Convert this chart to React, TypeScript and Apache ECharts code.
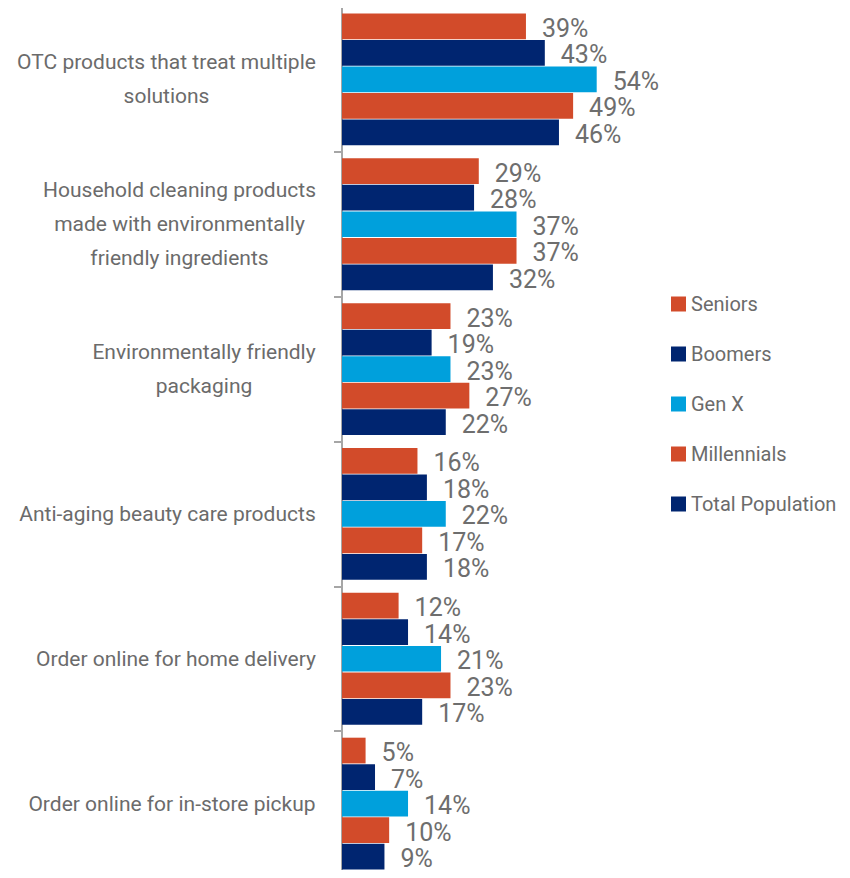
import React, { useEffect, useRef } from "react";
import * as echarts from "echarts";

const categories = [
  "OTC products that treat multiple\nsolutions",
  "Household cleaning products\nmade with environmentally\nfriendly ingredients",
  "Environmentally friendly\npackaging",
  "Anti-aging beauty care products",
  "Order online for home delivery",
  "Order online for in-store pickup",
];
const seriesNames = ["Seniors", "Boomers", "Gen X", "Millennials", "Total Population"];
const seniors = [39, 29, 23, 16, 12, 5];
const boomers = [43, 28, 19, 18, 14, 7];
const genX = [54, 37, 23, 22, 21, 14];
const millennials = [49, 37, 27, 17, 23, 10];
const totalPopulation = [46, 32, 22, 18, 17, 9];
const seriesData = [seniors, boomers, genX, millennials, totalPopulation];
const colors = ["#D24B2A", "#002570", "#00A0DC", "#D24B2A", "#002570"];

const FONT = "Roboto, 'Liberation Sans', sans-serif";
const CAT_SIZE = 21;

function measure(text: string, size: number): number {
  const c = document.createElement("canvas");
  const ctx = c.getContext("2d");
  if (!ctx) return 300;
  ctx.font = `${size}px ${FONT}`;
  return Math.max(...text.split("\n").map((l) => ctx.measureText(l).width));
}

export default function App() {
  const ref = useRef<HTMLDivElement>(null);
  useEffect(() => {
    if (!ref.current) return;
    const chart = echarts.init(ref.current, null, { renderer: "svg" });
    const rich: Record<string, any> = {};
    categories.forEach((c, i) => {
      rich["c" + i] = {
        width: Math.ceil(measure(c, CAT_SIZE)),
        align: "center",
        fontSize: CAT_SIZE,
        lineHeight: 34,
        fontFamily: FONT,
        color: "#6B6B6B",
      };
    });
    chart.setOption({
      animation: false,
      grid: { left: 342, top: 7, bottom: 2, right: 225, containLabel: false },
      legend: {
        orient: "vertical",
        left: 666,
        top: 289,
        itemWidth: 15,
        itemHeight: 15,
        itemGap: 30,
        icon: "rect",
        textStyle: { fontFamily: FONT, fontSize: 20, color: "#6B6B6B" },
        data: seriesNames,
      },
      xAxis: {
        type: "value",
        min: 0,
        max: 60,
        show: false,
      },
      yAxis: {
        type: "category",
        inverse: true,
        data: categories,
        axisLine: { lineStyle: { color: "#A6A6A6", width: 2 } },
        axisTick: { show: true, length: 8, lineStyle: { color: "#A6A6A6", width: 2 } },
        axisLabel: {
          margin: 26,
          formatter: (v: string, i: number) => `{c${i}|${v}}`,
          rich,
        },
      },
      series: seriesNames.map((name, k) => ({
        name,
        type: "bar",
        data: seriesData[k],
        barCategoryGap: "9%",
        barGap: "3%",
        itemStyle: { color: colors[k] },
        label: {
          show: true,
          position: "right",
          distance: 16,
          formatter: "{c}%",
          fontFamily: FONT,
          fontSize: 25,
          color: "#6E6E6E",
          offset: [0, 2],
        },
      })),
    });
    return () => chart.dispose();
  }, []);
  return <div ref={ref} style={{ width: 850, height: 878, margin: -8 }} />;
}
